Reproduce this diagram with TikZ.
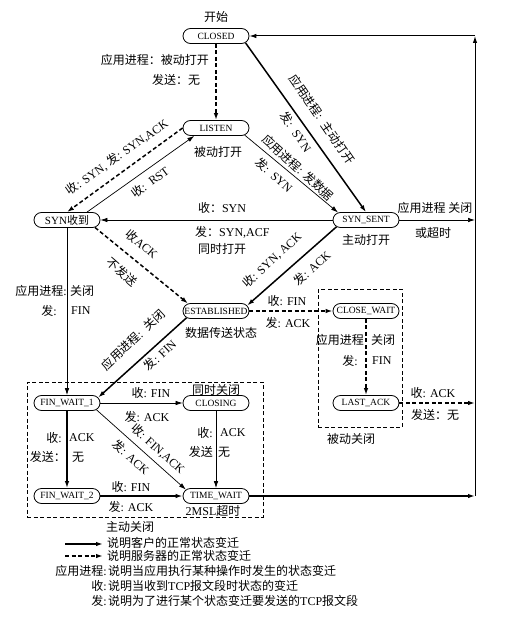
\documentclass[tikz,border=0pt]{standalone}
\usepackage{fontspec}
\setmainfont{Liberation Serif}
\newfontfamily\cjk{Noto Sans CJK SC}
\newcommand\zh[1]{{\cjk #1}}
\usetikzlibrary{arrows.meta,shapes.misc}
\begin{document}
\begin{tikzpicture}[x=1pt,y=-1pt,
  state/.style={draw, line width=0.8pt, rounded rectangle, minimum width=66pt, minimum height=15pt, inner sep=0pt, font=\fontsize{9.5}{10}\selectfont},
  lbl/.style={inner sep=0pt, font=\fontsize{12}{14}\selectfont},
  tip/.style={-{Latex[length=7pt,width=4.5pt]}},
  cli/.style={tip, line width=1.5pt},
  srv/.style={tip, line width=1.5pt, dash pattern=on 4pt off 2.5pt},
  thn/.style={tip, line width=0.7pt},
  dbox/.style={draw, dash pattern=on 4pt off 2.5pt, line width=0.7pt, inner sep=0pt}
]
\useasboundingbox (0,0) rectangle (513,631);

% boxes
\node[dbox, minimum width=236pt, minimum height=135pt] (activebox) at (145,449.5) {};
\node[dbox, minimum width=84pt, minimum height=138pt] (passivebox) at (360,358) {};

% states
\node[state] (CLOSED) at (216,36) {CLOSED};
\node[state] (LISTEN) at (216,128) {LISTEN};
\node[state, font=\fontsize{11}{12}\selectfont] (SYNR) at (67,220) {SYN\zh{收到}};
\node[state] (SYNS) at (366,220) {SYN\_SENT};
\node[state] (EST) at (216,311) {ESTABLISHED};
\node[state] (CW) at (366,311) {CLOSE\_WAIT};
\node[state] (LA) at (366,403) {LAST\_ACK};
\node[state] (FW1) at (67,403) {FIN\_WAIT\_1};
\node[state] (CLOSING) at (216,403) {CLOSING};
\node[state] (FW2) at (67,496) {FIN\_WAIT\_2};
\node[state] (TW) at (216,496) {TIME\_WAIT};

\coordinate (R0) at (475,36);
\coordinate (R1) at (475,220);
\coordinate (R2) at (475,403);
\coordinate (R3) at (475,496);

% connectors
\draw[srv] (CLOSED.south) -- (LISTEN.north);
\draw[cli] (CLOSED.-13) -- (SYNS.north);
\draw[thn] (LISTEN.-14) -- (SYNS.165);
\draw[srv] (LISTEN.west) -- (SYNR.north);
\draw[thn] ([xshift=20pt]SYNR.north) -- (LISTEN.200);
\draw[thn] (SYNS.west) -- (SYNR.east);
\draw[srv] (SYNR.-15) -- (EST.165);
\draw[cli] (SYNS.193) -- (EST.10);
\draw[thn] (SYNR.south) -- (FW1.north);
\draw[cli] (EST.193) -- (FW1.10);
\draw[srv] (EST.east) -- (CW.west);
\draw[srv] (CW.south) -- (LA.north);
\draw[srv] (LA.east) -- (R2);
\draw[thn] (FW1.east) -- (CLOSING.west);
\draw[cli] (FW1.south) -- (FW2.north);
\draw[thn] (FW1.-13) -- (TW.168);
\draw[thn] (CLOSING.south) -- (TW.north);
\draw[cli] (FW2.east) -- (TW.west);
\draw[cli] (TW.east) -- (R3);
\draw[thn] (SYNS.east) -- (R1);
\draw[tip, line width=1pt] (R3) -- (R0);
\draw[tip, line width=1pt] (R0) -- (CLOSED.east);

% labels
\node[lbl] (t1) at (216,17) {\zh{开始}};
\node[lbl, anchor=east] (t2) at (209,60) {\zh{应用进程：被动打开}};
\node[lbl] (t3) at (176,80) {\zh{发送：无}};
\node[lbl, rotate=-55.4] (t4) at (322,119) {\zh{应用进程}:\ \ \zh{主动打开}};
\node[lbl, rotate=-55.4] (t5) at (296,132) {\zh{发}:\ \ SYN};
\node[lbl, rotate=-42] (t6) at (298,168) {\zh{应用进程}: \zh{发数据}};
\node[lbl, rotate=-42] (t7) at (274,175) {\zh{发}:\ \ SYN};
\node[lbl] (t8) at (218,152) {\zh{被动打开}};
\node[lbl, rotate=35] (t9) at (117,157) {\zh{收}: SYN,\ \zh{发}: SYN,ACK};
\node[lbl, rotate=36.6] (t10) at (150,182) {\zh{收}:\ \ RST};
\node[lbl] (t11) at (222,208) {\zh{收：}SYN};
\node[lbl, anchor=west] (t12) at (195,232) {\zh{发：}SYN,ACF};
\node[lbl] (t13) at (222,249) {\zh{同时打开}};
\node[lbl] (t14) at (366,240) {\zh{主动打开}};
\node[lbl] (t15) at (435,208) {\zh{应用进程 关闭}};
\node[lbl] (t16) at (433,233) {\zh{或超时}};
\node[lbl, rotate=-41] (t17) at (142,244) {\zh{收}ACK};
\node[lbl, rotate=-41] (t18) at (122,272) {\zh{不发送}};
\node[lbl, rotate=42.5] (t19) at (272,260) {\zh{收}: SYN, ACK};
\node[lbl, rotate=42.5] (t20) at (312,268) {\zh{发}: ACK};
\node[lbl, anchor=east] (t21) at (67,291) {\zh{应用进程}:};
\node[lbl, anchor=west] (t22) at (70,291) {\zh{关闭}};
\node[lbl, anchor=east] (t23) at (57,311) {\zh{发}:};
\node[lbl, anchor=west] (t24) at (71,311) {FIN};
\node[lbl] (t25) at (221,333) {\zh{数据传送状态}};
\node[lbl, rotate=43] (t26) at (133,340) {\zh{应用进程}:\ \ \zh{关闭}};
\node[lbl, rotate=43] (t27) at (160,355) {\zh{发}: FIN};
\node[lbl] (t28) at (287,301) {\zh{收}: FIN};
\node[lbl] (t29) at (288,323) {\zh{发}: ACK};
\node[lbl, anchor=east] (t30) at (364,340) {\zh{应用进程}};
\node[lbl, anchor=west] (t31) at (371,340) {\zh{关闭}};
\node[lbl, anchor=east] (t32) at (358,361) {\zh{发}:};
\node[lbl, anchor=west] (t33) at (372,361) {FIN};
\node[lbl] (t34) at (433,393) {\zh{收}: ACK};
\node[lbl] (t35) at (435,415) {\zh{发送：无}};
\node[lbl] (t36) at (351,439) {\zh{被动关闭}};
\node[lbl] (t37) at (216,389.5) {\zh{同时关闭}};
\node[lbl] (t38) at (151,393) {\zh{收}: FIN};
\node[lbl] (t39) at (147,417) {\zh{发}: ACK};
\node[lbl, anchor=east] (t40) at (62,438) {\zh{收}:};
\node[lbl, anchor=west] (t41) at (69,438) {ACK};
\node[lbl, anchor=east] (t42) at (66,457) {\zh{发送：}};
\node[lbl, anchor=west] (t43) at (72,457) {\zh{无}};
\node[lbl, rotate=-41.6] (t44) at (158,449) {\zh{收}: FIN,ACK};
\node[lbl, rotate=-41.6] (t45) at (131,457) {\zh{发}: ACK};
\node[lbl, anchor=east] (t46) at (213,433) {\zh{收}:};
\node[lbl, anchor=west] (t47) at (220,433) {ACK};
\node[lbl, anchor=east] (t48) at (213,452) {\zh{发送}};
\node[lbl, anchor=west] (t49) at (218,452) {\zh{无}};
\node[lbl] (t50) at (131,487) {\zh{收}: FIN};
\node[lbl] (t51) at (131,507) {\zh{发}: ACK};
\node[lbl] (t52) at (213,510.5) {2MSL\zh{超时}};
\node[lbl] (t53) at (130,527) {\zh{主动关闭}};

% legend
\coordinate (La) at (65,544); \coordinate (Lb) at (103,544);
\coordinate (Lc) at (65,556); \coordinate (Ld) at (103,556);
\draw[cli] (La) -- (Lb);
\draw[srv] (Lc) -- (Ld);
\node[lbl, anchor=west] (g1) at (107,543) {\zh{说明客户的正常状态变迁}};
\node[lbl, anchor=west] (g2) at (107,556) {\zh{说明服务器的正常状态变迁}};
\node[lbl, anchor=east] (g3) at (107,571) {\zh{应用进程}:};
\node[lbl, anchor=west] (g4) at (108,571) {\zh{说明当应用执行某种操作时发生的状态变迁}};
\node[lbl, anchor=east] (g5) at (107,586) {\zh{收}:};
\node[lbl, anchor=west] (g6) at (108,586) {\zh{说明当收到}TCP\zh{报文段时状态的变迁}};
\node[lbl, anchor=east] (g7) at (107,601) {\zh{发}:};
\node[lbl, anchor=west] (g8) at (108,601) {\zh{说明为了进行某个状态变迁要发送的}TCP\zh{报文段}};
\end{tikzpicture}
\end{document}
